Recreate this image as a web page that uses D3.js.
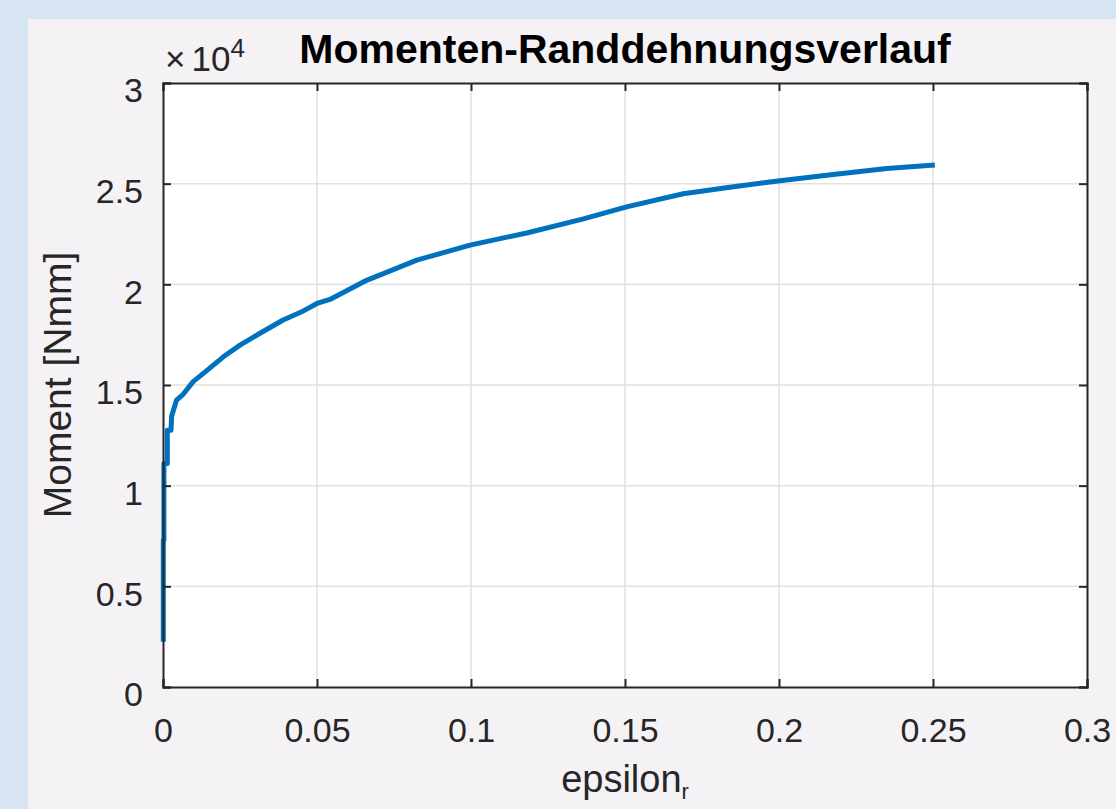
<!DOCTYPE html>
<html>
<head>
<meta charset="utf-8">
<script src="https://cdn.jsdelivr.net/npm/d3@7"></script>
<style>
    html, body { margin: 0; padding: 0; background: #d7e5f2; }
    .chart { width: 1116px; height: 809px; }
    text { font-family: "Liberation Sans", Arial, Helvetica, sans-serif; }
</style>
</head>
<body>
<div class="chart"></div>
<script>
// values (moment in Nmm)
var epsilon = [0.0001, 0.0001, 0.0003, 0.0003, 0.0014, 0.0014, 0.0026, 0.0028, 0.0044, 0.0066,
               0.0098, 0.0131, 0.0196, 0.0250, 0.0315, 0.0390, 0.0456, 0.0500, 0.0542, 0.0661,
               0.0824, 0.0997, 0.1181, 0.1365, 0.1505, 0.1689, 0.1852, 0.2003, 0.2176, 0.2350, 0.2506];
var moment  = [2250, 7300, 7300, 11100, 11100, 12750, 12750, 13450, 14250, 14550,
               15170, 15580, 16400, 16980, 17570, 18230, 18680, 19050, 19250, 20200,
               21200, 21950, 22550, 23250, 23850, 24500, 24850, 25150, 25450, 25750, 25930];
var xTicks = [0, 0.05, 0.1, 0.15, 0.2, 0.25, 0.3];
var yTicks = [0, 5000, 10000, 15000, 20000, 25000, 30000];
var yTickLabels = ["0", "0.5", "1", "1.5", "2", "2.5", "3"];

(function(){
    var width = 1116, height = 809;
    var margin = {top: 83, right: 29, bottom: 122, left: 163};
    var w = width - margin.left - margin.right;
    var h = height - margin.top - margin.bottom;
    var axisColor = "#262626";
    var tickLen = 8;

    var svg = d3.select(".chart").append("svg")
        .attr("width", width)
        .attr("height", height);

    // figure panel (grey) on top of the bluish page
    svg.append("rect")
        .attr("x", 28).attr("y", 19)
        .attr("width", width - 28).attr("height", height - 19)
        .attr("fill", "#f5f2f6");

    var g = svg.append("g")
        .attr("transform", "translate(" + margin.left + "," + margin.top + ")");

    var x = d3.scaleLinear().domain([0, 0.3]).range([0, w]);
    var y = d3.scaleLinear().domain([0, 30000]).range([h, 0]);

    g.append("rect").attr("width", w).attr("height", h).attr("fill", "#fff");

    // grid lines
    g.append("g").selectAll("line").data(xTicks.slice(1, -1)).enter()
        .append("line")
        .attr("x1", function(d){ return x(d); }).attr("x2", function(d){ return x(d); })
        .attr("y1", 0).attr("y2", h)
        .attr("stroke", "#e1e1e1").attr("stroke-width", 1.5);
    g.append("g").selectAll("line").data(yTicks.slice(1, -1)).enter()
        .append("line")
        .attr("y1", function(d){ return y(d); }).attr("y2", function(d){ return y(d); })
        .attr("x1", 0).attr("x2", w)
        .attr("stroke", "#e1e1e1").attr("stroke-width", 1.5);

    // the curve
    var pts = epsilon.map(function(e, i){ return [e, moment[i]]; });
    g.append("path")
        .datum(pts)
        .attr("d", d3.line().x(function(d){ return x(d[0]); }).y(function(d){ return y(d[1]); }))
        .attr("fill", "none")
        .attr("stroke", "#0072bd")
        .attr("stroke-width", 5)
        .attr("stroke-linejoin", "round");

    // axes (box with inward ticks)
    var bottom = g.append("g").attr("transform", "translate(0," + h + ")")
        .call(d3.axisBottom(x).tickValues(xTicks).tickSize(-tickLen).tickPadding(31)
            .tickFormat(function(d){ return d3.format("~g")(d); }));
    var left = g.append("g")
        .call(d3.axisLeft(y).tickValues(yTicks).tickSize(-tickLen).tickPadding(20)
            .tickFormat(function(d, i){ return yTickLabels[i]; }));
    var top = g.append("g")
        .call(d3.axisTop(x).tickValues(xTicks).tickSize(-tickLen).tickFormat(""));
    var right = g.append("g").attr("transform", "translate(" + w + ",0)")
        .call(d3.axisRight(y).tickValues(yTicks).tickSize(-tickLen).tickFormat(""));

    [bottom, left, top, right].forEach(function(a){
        a.select(".domain").attr("stroke", axisColor).attr("stroke-width", 2);
        a.selectAll(".tick line").attr("stroke", axisColor).attr("stroke-width", 2);
        a.selectAll(".tick text")
            .attr("fill", axisColor)
            .style("font-size", "34px");
    });
    left.selectAll(".tick text").attr("dy", "0.55em");
    bottom.selectAll(".tick text").attr("dy", "0.71em");

    // exponent label
    var ex = g.append("text")
        .attr("x", 2).attr("y", -12)
        .attr("fill", axisColor)
        .style("font-size", "35px");
    ex.append("tspan").text("\u00d7");
    ex.append("tspan").attr("dx", 6).text("10");
    ex.append("tspan").attr("dy", -14).style("font-size", "26px").text("4");

    // title
    g.append("text")
        .attr("x", w / 2).attr("y", -20)
        .attr("text-anchor", "middle")
        .attr("fill", "#000")
        .style("font-size", "41px")
        .style("font-weight", "bold")
        .text("Momenten-Randdehnungsverlauf");

    // axis labels
    g.append("text")
        .attr("transform", "translate(-92," + (h / 2) + ") rotate(-90)")
        .attr("text-anchor", "middle")
        .attr("fill", axisColor)
        .style("font-size", "39px")
        .text("Moment [Nmm]");

    var xl = g.append("text")
        .attr("x", w / 2).attr("y", h + 105)
        .attr("text-anchor", "middle")
        .attr("fill", axisColor)
        .style("font-size", "38px");
    xl.append("tspan").text("epsilon");
    xl.append("tspan").attr("dy", 7).style("font-size", "22px").text("r");
}());
</script>
</body>
</html>
